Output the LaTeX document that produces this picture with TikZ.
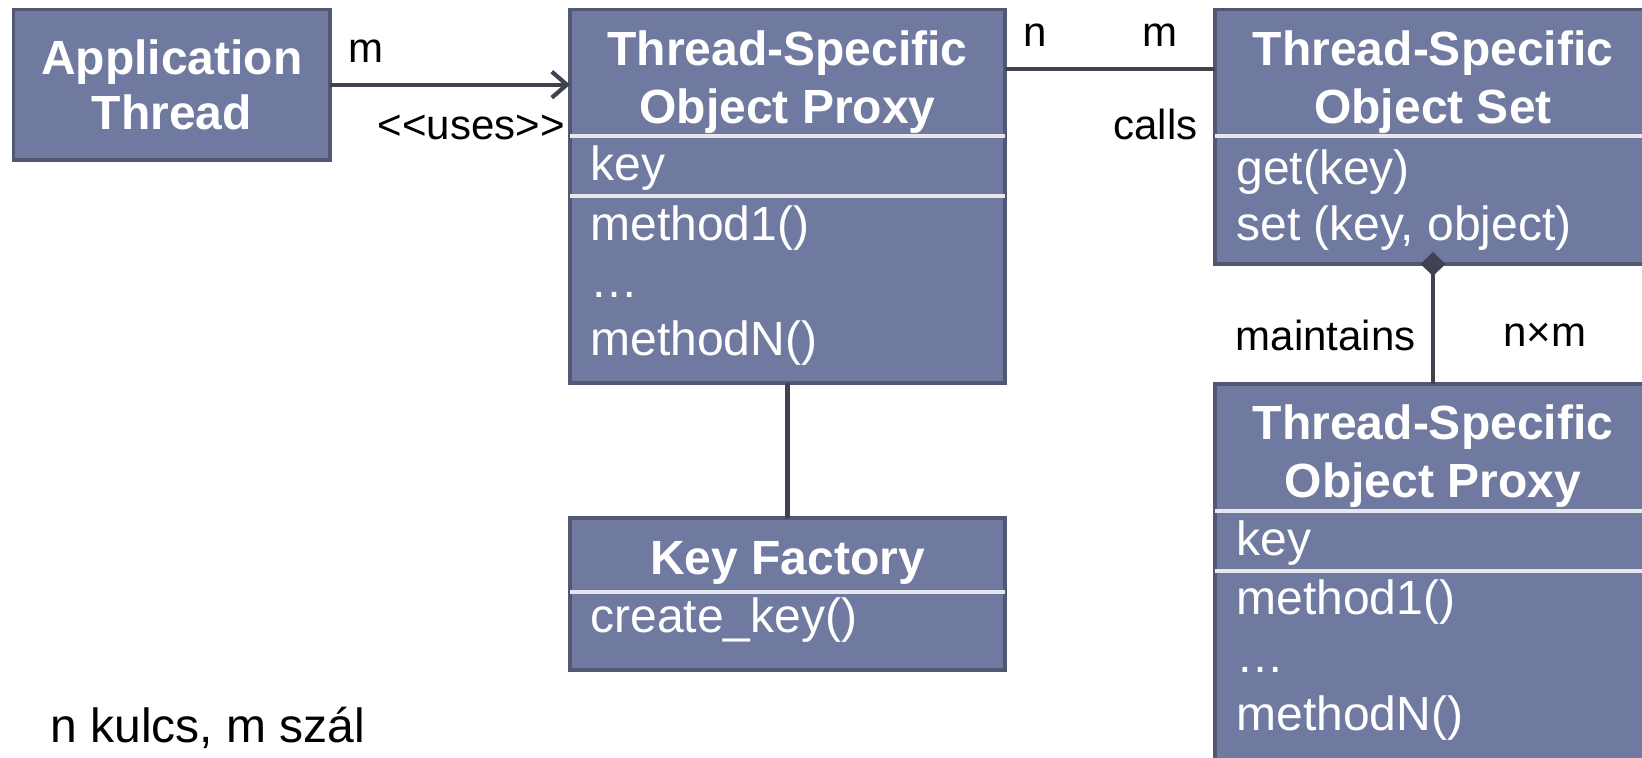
\documentclass[tikz,border=0pt]{standalone}
\usepackage{fontspec}
\setmainfont{Liberation Sans}[Ligatures=NoCommon]
\usetikzlibrary{arrows.meta}
\definecolor{boxfill}{RGB}{112,122,160}
\definecolor{boxline}{RGB}{82,88,114}
\definecolor{rulecol}{RGB}{232,232,236}
\definecolor{wirecol}{RGB}{64,66,82}
\begin{document}
\begin{tikzpicture}[x=0.5pt,y=-0.5pt,
  umlbox/.style={draw=boxline, fill=boxfill, line width=1.7pt, anchor=north west,
                 inner sep=0pt, outer sep=0pt},
  classtitle/.style={text=white, font=\fontsize{24}{28.8}\selectfont\bfseries,
                 align=center, inner sep=0pt},
  member/.style={text=white, font=\fontsize{24}{28.8}\selectfont, anchor=west,
                 inner sep=0pt, text height=17.5pt, text depth=5pt},
  lbl/.style={font=\fontsize{21}{25}\selectfont, inner sep=0pt},
  divider/.style={draw=rulecol, line width=2pt},
  wire/.style={draw=wirecol, line width=2.1pt},
]
\useasboundingbox (0,0) rectangle (1642,758);
\clip (0,0) rectangle (1642,758);

% class boxes
\node[umlbox, minimum width=158.2pt, minimum height=75.3pt,
      text=white, align=center, font=\fontsize{24}{27.7}\selectfont\bfseries]
      (app) at (13.6,9.4) {\raisebox{-1.5pt}{Application}\\\raisebox{-1.5pt}{Thread}};
\node[umlbox, minimum width=217.5pt, minimum height=186.8pt] (proxyA) at (570,9.4) {};
\node[umlbox, minimum width=217.5pt, minimum height=76pt]    (keyf)   at (570,518) {};
\node[umlbox, minimum width=218pt,   minimum height=127.3pt] (objset) at (1215,9.4) {};
\node[umlbox, minimum width=218pt,   minimum height=200pt]   (proxyB) at (1215,384) {};

% compartment separators
\draw[divider] (proxyA.west |- 0,136) -- (proxyA.east |- 0,136);
\draw[divider] (proxyA.west |- 0,196) -- (proxyA.east |- 0,196);
\draw[divider] (keyf.west |- 0,592)   -- (keyf.east |- 0,592);
\draw[divider] (objset.west |- 0,136) -- (objset.east |- 0,136);
\draw[divider] (proxyB.west |- 0,511) -- (proxyB.east |- 0,511);
\draw[divider] (proxyB.west |- 0,571) -- (proxyB.east |- 0,571);

% Thread-Specific Object Proxy (left)
\node[classtitle] (proxyAname) at (787.5,82) {Thread-Specific\\Object Proxy};
\node[member] (proxyAkey) at (590,168)   {key};
\node[member] (proxyAm1)  at (590,228)   {method1()};
\node[member] (proxyAdots) at (590,285.5) {…};
\node[member] (proxyAmN)  at (590,343)   {methodN()};

% Key Factory
\node[classtitle] (keyfname) at (787.5,563) {Key Factory};
\node[member] (keyfm) at (590,620) {create\_key()};

% Thread-Specific Object Set
\node[classtitle] (objsetname) at (1433,82) {Thread-Specific\\Object Set};
\node[member] (objsetget) at (1236,172) {get(key)};
\node[member] (objsetset) at (1236,228) {set (key, object)};

% Thread-Specific Object Proxy (right)
\node[classtitle] (proxyBname) at (1433,456) {Thread-Specific\\Object Proxy};
\node[member] (proxyBkey)  at (1236,543) {key};
\node[member] (proxyBm1)   at (1236,602) {method1()};
\node[member] (proxyBdots) at (1236,660) {…};
\node[member] (proxyBmN)   at (1236,718) {methodN()};

% associations
\draw[wire, -{Straight Barb[length=7.5pt,width=13pt,line width=2.1pt]}]
  (app.east) -- (app.east -| proxyA.west);
\coordinate (nmrow) at (1100,69);
\draw[wire] (nmrow -| proxyA.east) -- (nmrow -| objset.west);
\draw[wire] (proxyA.south) -- (keyf.north);
\draw[wire, {Diamond[length=12pt,width=12.5pt]}-, shorten <=-6pt]
  (objset.south) -- (proxyB.north);

% association labels
\node[lbl] (mApp) at (366,51) {m};
\node[lbl, anchor=east] (uses) at (565,127) {{<}{<}uses{>}{>}};
\node[lbl] (nLeft) at (1035,35.5) {n};
\node[lbl] (mRight) at (1160,35.5) {m};
\node[lbl, anchor=east] (calls) at (1198,124.5) {calls};
\node[lbl, anchor=east] (maint) at (1416,335) {maintains};
\node[lbl] (nxm) at (1545,335) {n×m};

% note
\node[font=\fontsize{24}{28.8}\selectfont, anchor=west, inner sep=0pt]
  (note) at (50,728) {n kulcs, m szál};
\end{tikzpicture}
\end{document}
